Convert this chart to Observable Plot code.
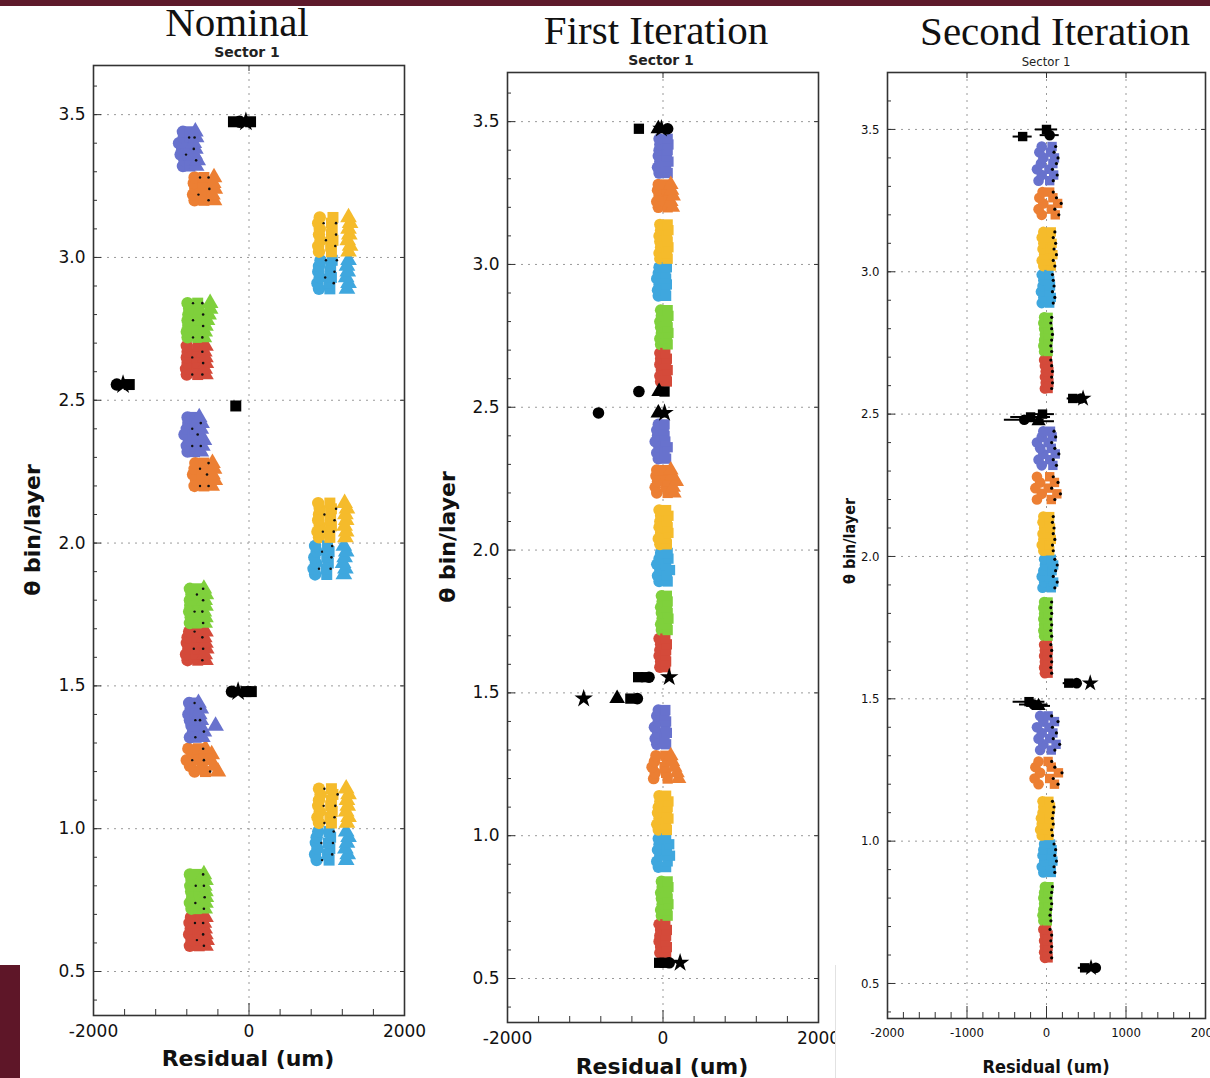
<!DOCTYPE html>
<html><head><meta charset="utf-8">
<script src="https://cdn.jsdelivr.net/npm/d3@7"></script>
<script src="https://cdn.jsdelivr.net/npm/@observablehq/plot@0.6"></script>
<style>
body{margin:0;background:#fff;width:1210px;height:1078px;overflow:hidden;position:relative;}
.panel{position:absolute;}
#overlay{position:absolute;left:0;top:0;pointer-events:none;}
.ttl{font-family:"Liberation Serif","DejaVu Serif",serif;font-size:41px;fill:#111;}
.sec{font-family:"DejaVu Sans",sans-serif;font-weight:bold;font-size:14px;fill:#222;}
.axt{font-family:"DejaVu Sans",sans-serif;font-weight:bold;font-size:22px;fill:#111;}
.cnd{font-family:"DejaVu Sans Condensed","Liberation Sans Narrow",sans-serif;font-stretch:condensed;}
</style></head><body>
<div style="position:absolute;left:0;top:0;width:1210px;height:6px;background:#5e1a2b"></div>
<div style="position:absolute;left:0;top:965px;width:20px;height:113px;background:#5e1628"></div>
<div id="p1" class="panel" style="left:0;top:40px;width:430px"></div>
<div id="p2" class="panel" style="left:430px;top:40px;width:410px"></div>
<div id="p3" class="panel" style="left:835px;top:40px;width:375px"></div>
<div style="position:absolute;left:835px;top:965px;width:1px;height:113px;background:#e2e2e2"></div>
<svg id="overlay" width="1210" height="1078">
  <text class="ttl" x="237" y="36" text-anchor="middle">Nominal</text>
  <text class="sec" x="247" y="57" text-anchor="middle">Sector 1</text>
  <text class="ttl" x="656" y="44" text-anchor="middle">First Iteration</text>
  <text class="sec" x="661" y="65" text-anchor="middle">Sector 1</text>
  <text class="ttl" x="1055" y="45" text-anchor="middle">Second Iteration</text>
  <text class="cnd" x="1046" y="66" text-anchor="middle" font-size="13" fill="#222">Sector 1</text>
  <text class="axt" transform="translate(40,530) rotate(-90)" text-anchor="middle">θ bin/layer</text>
  <text class="axt" transform="translate(455,537) rotate(-90)" text-anchor="middle">θ bin/layer</text>
  <text class="cnd" transform="translate(855,541) rotate(-90)" text-anchor="middle" font-size="16" font-weight="bold" fill="#111">θ bin/layer</text>
  <text class="axt" x="248" y="1066" text-anchor="middle">Residual (um)</text>
  <text class="axt" x="662" y="1074" text-anchor="middle">Residual (um)</text>
  <text class="cnd" x="1046" y="1073" text-anchor="middle" font-size="18" font-weight="bold" fill="#111">Residual (um)</text>
</svg>
<script>
// layer colours: red, green, light blue, yellow, orange, blue, black
const layerColors = ["#d44a3a","#7fd03c","#3fa7de","#f5bb2b","#ec7f33","#6872cd","#000000"];
const colSymbols = ["circle","square","triangle"];
const yMajor = [0.5,1.0,1.5,2.0,2.5,3.0,3.5];
const xLabels12 = [-2000,0,2000];
const xLabels3 = [-2000,-1000,0,1000,2000];

// rows: [layer, theta, residual x values...]
const nominalRows = [
[0,0.59,-760,-640,-560],[0,0.61,-740,-620,-545],[0,0.63,-770,-650,-560],[0,0.65,-750,-630,-570],[0,0.67,-765,-650,-580],[0,0.69,-745,-620,-560],
[1,0.72,-740,-640,-570],[1,0.74,-760,-650,-560],[1,0.76,-730,-630,-555],[1,0.78,-745,-645,-560],[1,0.80,-755,-640,-575],[1,0.82,-740,-630,-560],[1,0.84,-760,-650,-580],
[2,0.89,870,1030,1250],[2,0.91,850,1010,1270],[2,0.93,880,1040,1240],[2,0.95,860,1020,1260],[2,0.97,870,1050,1280],[2,0.99,890,1030,1250],
[3,1.02,900,1060,1260],[3,1.04,880,1040,1280],[3,1.06,910,1070,1250],[3,1.08,890,1050,1270],[3,1.10,900,1060,1260],[3,1.12,920,1080,1280],[3,1.14,900,1060,1250],
[4,1.20,-700,-560,-400],[4,1.22,-760,-600,-450],[4,1.24,-800,-640,-500],[4,1.26,-720,-580,-480],[4,1.28,-780,-650,-560],
[5,1.32,-760,-680,-600],[5,1.34,-720,-640,-580],[5,1.36,-740,-660,-430],[5,1.38,-760,-690,-620],[5,1.40,-780,-700,-640],[5,1.42,-750,-680,-620],[5,1.44,-770,-700,-650],
[0,1.59,-790,-660,-560],[0,1.61,-810,-680,-570],[0,1.63,-780,-650,-550],[0,1.65,-800,-670,-560],[0,1.67,-790,-660,-575],[0,1.69,-770,-650,-560],
[1,1.72,-760,-650,-570],[1,1.74,-750,-640,-560],[1,1.76,-770,-660,-580],[1,1.78,-755,-645,-560],[1,1.80,-760,-650,-570],[1,1.82,-740,-640,-555],[1,1.84,-760,-650,-580],
[2,1.89,850,1000,1220],[2,1.91,830,990,1240],[2,1.93,860,1020,1210],[2,1.95,840,1000,1230],[2,1.97,870,1030,1250],[2,1.99,850,1010,1220],
[3,2.02,900,1040,1240],[3,2.04,880,1030,1250],[3,2.06,910,1060,1230],[3,2.08,890,1040,1250],[3,2.10,900,1050,1240],[3,2.12,910,1060,1260],[3,2.14,890,1040,1230],
[4,2.20,-700,-580,-480],[4,2.22,-680,-560,-440],[4,2.24,-720,-600,-470],[4,2.26,-700,-570,-450],[4,2.28,-690,-580,-470],
[5,2.32,-790,-700,-620],[5,2.34,-800,-680,-600],[5,2.36,-770,-660,-580],[5,2.38,-830,-720,-640],[5,2.40,-800,-690,-620],[5,2.42,-780,-680,-610],[5,2.44,-790,-700,-640],
[0,2.59,-800,-660,-560],[0,2.61,-810,-670,-570],[0,2.63,-790,-650,-555],[0,2.65,-800,-670,-560],[0,2.67,-790,-660,-575],[0,2.69,-800,-650,-560],
[1,2.72,-790,-660,-580],[1,2.74,-800,-670,-570],[1,2.76,-780,-650,-560],[1,2.78,-790,-660,-540],[1,2.80,-780,-650,-520],[1,2.82,-770,-640,-500],[1,2.84,-790,-660,-500],
[2,2.89,900,1040,1260],[2,2.91,880,1030,1280],[2,2.93,910,1060,1250],[2,2.95,890,1040,1270],[2,2.97,900,1050,1260],[2,2.99,920,1070,1280],
[3,3.02,900,1060,1280],[3,3.04,890,1050,1300],[3,3.06,920,1080,1270],[3,3.08,900,1060,1290],[3,3.10,910,1070,1280],[3,3.12,890,1060,1300],[3,3.14,910,1080,1280],
[4,3.20,-700,-580,-450],[4,3.22,-720,-600,-470],[4,3.24,-690,-570,-440],[4,3.26,-710,-590,-460],[4,3.28,-700,-580,-450],
[5,3.32,-850,-760,-680],[5,3.34,-830,-740,-660],[5,3.36,-880,-780,-700],[5,3.38,-860,-770,-690],[5,3.40,-900,-800,-710],[5,3.42,-840,-760,-680],[5,3.44,-850,-760,-690]
];
// black markers: [theta, x, symbol, error]
const nominalBlack = [
[3.475,-200,"square",0],[3.475,-120,"circle",0],[3.475,-40,"star",0],[3.475,20,"square",0],
[2.48,-170,"square",0],
[2.555,-1700,"circle",0],[2.555,-1620,"star",0],[2.555,-1540,"square",0],
[1.48,-220,"circle",0],[1.48,-140,"star",0],[1.48,-40,"square",0],[1.48,30,"square",0]
];

const firstRows = [
[0,0.59,-40,40],[0,0.61,-30,50],[0,0.63,-50,30],[0,0.65,-40,40],[0,0.67,-30,50],[0,0.69,-50,30],
[1,0.72,-20,60],[1,0.74,-30,50],[1,0.76,-10,70],[1,0.78,-20,60],[1,0.80,-30,50],[1,0.82,-10,70],[1,0.84,-20,60],
[2,0.89,-60,40],[2,0.91,-80,60],[2,0.93,-40,90],[2,0.95,-70,50],[2,0.97,-50,80],[2,0.99,-60,40],
[3,1.02,-60,50],[3,1.04,-80,40],[3,1.06,-50,70],[3,1.08,-70,50],[3,1.10,-60,60],[3,1.12,-40,70],[3,1.14,-50,40],
[4,1.20,-120,60,200],[4,1.22,-100,40,180],[4,1.24,-140,20,150],[4,1.26,-110,50,120],[4,1.28,-90,30,100],
[5,1.32,-80,40],[5,1.34,-100,20],[5,1.36,-70,50],[5,1.38,-110,30],[5,1.40,-60,40],[5,1.42,-80,20],[5,1.44,-60,30],
[0,1.59,-40,30],[0,1.61,-30,40],[0,1.63,-50,30],[0,1.65,-40,40],[0,1.67,-30,50],[0,1.69,-50,30],
[1,1.72,-20,60],[1,1.74,-30,50],[1,1.76,-10,70],[1,1.78,-20,60],[1,1.80,-30,50],[1,1.82,-10,60],[1,1.84,-20,50],
[2,1.89,-50,60],[2,1.91,-70,50],[2,1.93,-40,90],[2,1.95,-80,40],[2,1.97,-50,70],[2,1.99,-30,60],
[3,2.02,-40,50],[3,2.04,-60,40],[3,2.06,-30,70],[3,2.08,-50,60],[3,2.10,-40,50],[3,2.12,-30,70],[3,2.14,-50,40],
[4,2.20,-80,60,140],[4,2.22,-100,40,130],[4,2.24,-70,60,170],[4,2.26,-90,30,120],[4,2.28,-80,20,100],
[5,2.32,-60,40],[5,2.34,-80,20],[5,2.36,-50,60],[5,2.38,-100,30],[5,2.40,-70,20],[5,2.42,-80,10],[5,2.44,-60,20],
[0,2.59,-30,50],[0,2.61,-40,40],[0,2.63,-20,60],[0,2.65,-40,40],[0,2.67,-30,50],[0,2.69,-40,30],
[1,2.72,-30,60],[1,2.74,-40,50],[1,2.76,-20,70],[1,2.78,-30,60],[1,2.80,-40,50],[1,2.82,-20,70],[1,2.84,-30,60],
[2,2.89,-60,40],[2,2.91,-70,30],[2,2.93,-50,50],[2,2.95,-80,40],[2,2.97,-60,30],[2,2.99,-50,50],
[3,3.02,-40,60],[3,3.04,-50,50],[3,3.06,-30,70],[3,3.08,-40,60],[3,3.10,-50,50],[3,3.12,-30,70],[3,3.14,-40,60],
[4,3.20,-60,60,120],[4,3.22,-80,40,100],[4,3.24,-50,70,130],[4,3.26,-70,50,110],[4,3.28,-60,40,100],
[5,3.32,-50,60],[5,3.34,-70,40],[5,3.36,-40,70],[5,3.38,-60,50],[5,3.40,-50,60],[5,3.42,-40,70],[5,3.44,-50,60]
];
const firstBlack = [
[0.555,-50,"square",0],[0.555,20,"square",0],[0.555,80,"circle",0],[0.555,220,"star",0],
[1.48,-1020,"star",0],[1.48,-590,"triangle",0],[1.48,-420,"square",0],[1.48,-330,"circle",0],
[1.555,-320,"square",0],[1.555,-220,"square",0],[1.555,-180,"circle",0],[1.555,80,"star",0],
[2.48,-830,"circle",0],[2.48,-60,"triangle",0],[2.48,20,"star",0],
[2.555,-310,"circle",0],[2.555,-50,"triangle",0],[2.555,20,"square",0],
[3.475,-310,"square",0],[3.475,-60,"triangle",0],[3.475,-20,"star",0],[3.475,60,"circle",0]
];

const secondRows = [
[0,0.59,-20,20],[0,0.61,-30,10],[0,0.63,-20,20],[0,0.65,-30,10],[0,0.67,-20,20],[0,0.69,-40,0],
[1,0.72,-40,10],[1,0.74,-50,0],[1,0.76,-40,10],[1,0.78,-30,20],[1,0.80,-40,10],[1,0.82,-30,20],[1,0.84,-20,30],
[2,0.89,-40,60],[2,0.91,-60,50],[2,0.93,-30,80],[2,0.95,-50,60],[2,0.97,-40,70],[2,0.99,-30,50],
[3,1.02,-60,30],[3,1.04,-80,20],[3,1.06,-60,40],[3,1.08,-70,30],[3,1.10,-50,40],[3,1.12,-40,50],[3,1.14,-50,30],
[4,1.20,-100,100],[4,1.22,-150,40],[4,1.24,-80,150],[4,1.26,-140,60],[4,1.28,-100,20],
[5,1.32,-80,60],[5,1.34,-40,120],[5,1.36,-100,40],[5,1.38,-60,80],[5,1.40,-120,30],[5,1.42,-40,100],[5,1.44,-80,20],
[0,1.59,-20,20],[0,1.61,-30,10],[0,1.63,-20,20],[0,1.65,-30,10],[0,1.67,-20,20],[0,1.69,-30,10],
[1,1.72,-30,20],[1,1.74,-40,10],[1,1.76,-30,20],[1,1.78,-40,10],[1,1.80,-30,20],[1,1.82,-40,10],[1,1.84,-30,20],
[2,1.89,-50,60],[2,1.91,-30,90],[2,1.93,-60,40],[2,1.95,-40,70],[2,1.97,-20,90],[2,1.99,-30,60],
[3,2.02,-40,40],[3,2.04,-60,30],[3,2.06,-40,60],[3,2.08,-50,40],[3,2.10,-30,50],[3,2.12,-50,30],[3,2.14,-40,40],
[4,2.20,-120,60],[4,2.22,-60,130],[4,2.24,-140,20],[4,2.26,-80,100],[4,2.28,-120,40],
[5,2.32,-60,80],[5,2.34,-100,40],[5,2.36,-40,110],[5,2.38,-80,60],[5,2.40,-120,20],[5,2.42,-60,70],[5,2.44,-40,50],
[0,2.59,-20,20],[0,2.61,-10,30],[0,2.63,-20,20],[0,2.65,-10,30],[0,2.67,-20,20],[0,2.69,-30,10],
[1,2.72,-30,20],[1,2.74,-40,10],[1,2.76,-30,20],[1,2.78,-20,30],[1,2.80,-30,20],[1,2.82,-40,10],[1,2.84,-30,20],
[2,2.89,-60,40],[2,2.91,-40,60],[2,2.93,-70,30],[2,2.95,-50,50],[2,2.97,-40,40],[2,2.99,-60,30],
[3,3.02,-40,60],[3,3.04,-60,40],[3,3.06,-30,80],[3,3.08,-50,50],[3,3.10,-40,70],[3,3.12,-60,40],[3,3.14,-40,60],
[4,3.20,-60,110],[4,3.22,-100,60],[4,3.24,-40,140],[4,3.26,-90,80],[4,3.28,-50,40],
[5,3.32,-100,40],[5,3.34,-60,90],[5,3.36,-120,30],[5,3.38,-70,80],[5,3.40,-40,100],[5,3.42,-90,50],[5,3.44,-60,70]
];
const secondBlack = [
[0.555,480,"square",80],[0.555,560,"star",60],[0.555,620,"circle",50],
[1.49,-220,"square",200],[1.48,-160,"circle",180],[1.475,-100,"triangle",150],
[1.555,280,"square",70],[1.555,380,"circle",60],[1.555,550,"star",30],
[2.49,-200,"square",250],[2.48,-280,"circle",250],[2.475,-100,"triangle",200],[2.50,-50,"square",150],
[2.555,330,"square",70],[2.555,430,"circle",60],[2.555,460,"star",40],
[3.475,-300,"square",120],[3.50,0,"square",140],[3.48,40,"circle",120]
];

function flatten(rows){
  const out = [];
  rows.forEach(([L,y,...xs], k) => xs.forEach((x,i) => out.push({L,y,x,k,s:colSymbols[i%3],c:layerColors[L]})));
  return out;
}
function blackPts(rows){ return rows.map(([y,x,s,e]) => ({y,x,s,e})); }

const minorY = d3.range(4,37).map(v => v/10);
const plainFmt = d => String(d);

function panel({rows, black, el, width, height, mt, mb, ml, mr, yDomain, xMinor, xMajorTicks, xLabels, xGrid, r, font, fs, marks = []}){
  const pts = flatten(rows);
  const blk = blackPts(black);
  const dotMarks = colSymbols.map(s => Plot.dot(pts.filter(d => d.s === s), {x:"x", y:"y", fill:"c", symbol:s, r}));
  const blkMarks = ["circle","square","triangle","star"].map(s => Plot.dot(blk.filter(d => d.s === s), {x:"x", y:"y", fill:"#000", symbol:s, r: r}));
  const chart = Plot.plot({
    width, height, marginTop: mt, marginBottom: mb, marginLeft: ml, marginRight: mr,
    x: {domain: [-2000, 2000]},
    y: {domain: yDomain},
    color: {type: "identity"},
    style: {fontFamily: font, color: "#111", background: "transparent", overflow: "visible"},
    marks: [
      Plot.gridY(yMajor, {stroke: "#9a9a9a", strokeOpacity: 1, strokeDasharray: "2,5"}),
      Plot.gridX(xGrid, {stroke: "#9a9a9a", strokeOpacity: 1, strokeDasharray: "2,5"}),
      ...dotMarks,
      ...marks.map(f => f(pts, blk)),
      Plot.ruleY(blk.filter(d => d.e > 0), {y:"y", x1: d => d.x - d.e, x2: d => d.x + d.e, stroke:"#000", strokeWidth: 2}),
      ...blkMarks,
      Plot.axisY(minorY, {tickSize: -4, tickFormat: () => "", label: null, stroke: "#333"}),
      Plot.axisY(yMajor, {tickSize: -8, tickFormat: () => "", label: null, stroke: "#333"}),
      Plot.axisY(yMajor, {anchor: "right", tickSize: -5, tickFormat: () => "", label: null, stroke: "#333"}),
      Plot.axisY(yMajor, {tickSize: 0, tickPadding: 8, fontSize: fs, tickFormat: d => d.toFixed(1), label: null}),
      Plot.axisX(xMinor, {tickSize: -6, tickFormat: () => "", label: null, stroke: "#333"}),
      Plot.axisX(xMajorTicks, {tickSize: -12, tickFormat: () => "", label: null, stroke: "#333"}),
      Plot.axisX(xGrid, {anchor: "top", tickSize: -5, tickFormat: () => "", label: null, stroke: "#333"}),
      Plot.axisX(xLabels, {tickSize: 0, tickPadding: 9, fontSize: fs, tickFormat: plainFmt, label: null}),
      Plot.frame({stroke: "#333", strokeWidth: 1.6})
    ]
  });
  document.getElementById(el).appendChild(chart);
}

const minorX12 = [-1600,-1200,-800,-400,400,800,1200,1600];
const minorX3 = d3.range(-1800, 2000, 200).filter(v => v % 1000 !== 0);

panel({rows: nominalRows, black: nominalBlack, el: "p1", width: 430, height: 1040, mt: 25, mb: 65, ml: 93, mr: 26,
  yDomain: [0.346, 3.672], xMinor: minorX12, xMajorTicks: [0], xLabels: xLabels12, xGrid: [0], r: 6.2,
  font: "DejaVu Sans, sans-serif", fs: 17,
  marks: [pts => Plot.dot(pts.filter(d => d.s === "square" && d.k % 2 === 0), {x: d => d.x + 60, y: "y", fill: "#111", r: 1.3}),
          pts => Plot.dot(pts.filter(d => d.s === "circle" && d.k % 3 === 1), {x: d => d.x + 70, y: "y", fill: "#111", r: 1.2})]});

panel({rows: firstRows, black: firstBlack, el: "p2", width: 410, height: 1040, mt: 32, mb: 58, ml: 77, mr: 22,
  yDomain: [0.346, 3.672], xMinor: minorX12, xMajorTicks: [0], xLabels: xLabels12, xGrid: [0], r: 5.8,
  font: "DejaVu Sans, sans-serif", fs: 17});

panel({rows: secondRows, black: secondBlack, el: "p3", width: 375, height: 1040, mt: 32, mb: 62, ml: 52, mr: 5,
  yDomain: [0.377, 3.70], xMinor: minorX3, xMajorTicks: [-1000,0,1000], xLabels: xLabels3, xGrid: [-1000,0,1000], r: 5.3,
  font: "'DejaVu Sans Condensed', 'Liberation Sans Narrow', sans-serif", fs: 13,
  marks: [pts => Plot.dot(pts.filter(d => d.s === "square"), {x: d => d.x + 45, y: "y", fill: "#000", r: 1.6})]});

document.getElementById("p3").querySelector("svg").style.background = "white";
</script>
</body></html>
